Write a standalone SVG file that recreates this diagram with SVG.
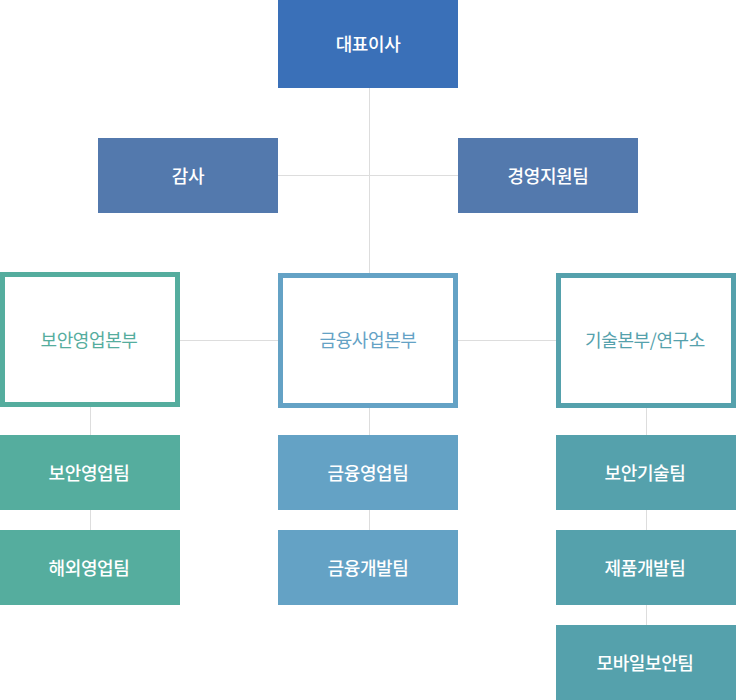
<svg xmlns="http://www.w3.org/2000/svg" width="736" height="700" viewBox="0 0 736 700">
<style>
text{font-family:"Noto Sans CJK KR","Noto Sans",sans-serif;font-size:18px;text-anchor:middle;dominant-baseline:central;letter-spacing:-0.4px}
.w{fill:#ffffff;font-weight:500}
.ln{stroke:#dddddd;stroke-width:1;fill:none}
</style>
<rect width="736" height="700" fill="#ffffff"/>
<g id="connectors">
<line class="ln" x1="369.5" y1="88" x2="369.5" y2="273"/>
<line class="ln" x1="278" y1="175.5" x2="458" y2="175.5"/>
<line class="ln" x1="180" y1="340.5" x2="556" y2="340.5"/>
<line class="ln" x1="90.5" y1="407" x2="90.5" y2="435"/>
<line class="ln" x1="90.5" y1="510" x2="90.5" y2="530"/>
<line class="ln" x1="369.5" y1="407" x2="369.5" y2="435"/>
<line class="ln" x1="369.5" y1="510" x2="369.5" y2="530"/>
<line class="ln" x1="646.5" y1="407" x2="646.5" y2="435"/>
<line class="ln" x1="646.5" y1="510" x2="646.5" y2="530"/>
<line class="ln" x1="646.5" y1="605" x2="646.5" y2="625"/>
</g>
<g id="ceo"><rect x="278" y="0" width="180" height="88" fill="#3a70b8"/><text class="w" x="368" y="43">대표이사</text></g>
<g id="audit"><rect x="98" y="138" width="180" height="75" fill="#5379ad"/><text class="w" x="188" y="175">감사</text></g>
<g id="mgmt"><rect x="458" y="138" width="180" height="75" fill="#5379ad"/><text class="w" x="548" y="175">경영지원팀</text></g>
<g id="div-sec"><rect x="2.5" y="274.5" width="175" height="130" fill="#ffffff" stroke="#55ad9e" stroke-width="5"/><text x="89" y="339" fill="#55ad9e">보안영업본부</text></g>
<g id="div-fin"><rect x="280.5" y="275.5" width="175" height="130" fill="#ffffff" stroke="#64a2c5" stroke-width="5"/><text x="368" y="339" fill="#64a2c5">금융사업본부</text></g>
<g id="div-tech"><rect x="558.5" y="275.5" width="175" height="130" fill="#ffffff" stroke="#55a1ac" stroke-width="5"/><text x="645" y="339" fill="#55a1ac">기술본부/연구소</text></g>
<g id="sec-sales"><rect x="0" y="435" width="180" height="75" fill="#55ad9e"/><text class="w" x="89" y="472">보안영업팀</text></g>
<g id="overseas"><rect x="0" y="530" width="180" height="75" fill="#55ad9e"/><text class="w" x="89" y="567">해외영업팀</text></g>
<g id="fin-sales"><rect x="278" y="435" width="180" height="75" fill="#64a2c5"/><text class="w" x="368" y="472">금융영업팀</text></g>
<g id="fin-dev"><rect x="278" y="530" width="180" height="75" fill="#64a2c5"/><text class="w" x="368" y="567">금융개발팀</text></g>
<g id="sec-tech"><rect x="556" y="435" width="180" height="75" fill="#55a1ac"/><text class="w" x="645" y="472">보안기술팀</text></g>
<g id="prod-dev"><rect x="556" y="530" width="180" height="75" fill="#55a1ac"/><text class="w" x="645" y="567">제품개발팀</text></g>
<g id="mobile"><rect x="556" y="625" width="180" height="75" fill="#55a1ac"/><text class="w" x="645" y="662">모바일보안팀</text></g>
</svg>
